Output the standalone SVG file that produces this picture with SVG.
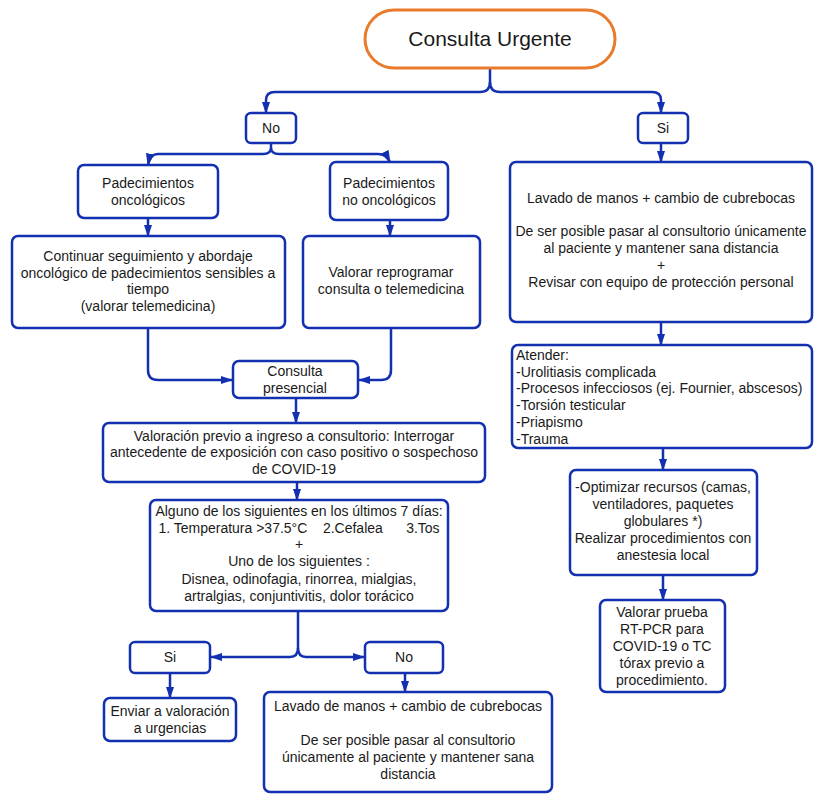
<svg xmlns="http://www.w3.org/2000/svg" width="822" height="804" viewBox="0 0 822 804">
<style>
.b{fill:#fff;stroke:#1230b0;stroke-width:2.5}
.t{font-family:"Liberation Sans",Arial,sans-serif;font-size:14px;fill:#1a1a1a;text-anchor:middle}
.l{text-anchor:start}
.c{fill:none;stroke:#1230b0;stroke-width:2.5}
</style>
<defs>
<marker id="a" viewBox="0 0 12 8" refX="11" refY="4" markerWidth="5" markerHeight="3.4" markerUnits="strokeWidth" orient="auto">
<path d="M0,0 L12,4 L0,8 z" fill="#1230b0"/>
</marker>
</defs>
<rect width="822" height="804" fill="#fff"/>
<g id="connectors">
<path class="c" d="M490,68 V82 Q490,92 480,92 H275 Q266,92 266,100 V113" marker-end="url(#a)"/>
<path class="c" d="M490,82 Q490,92 500,92 H652 Q661,92 661,100 V113" marker-end="url(#a)"/>
<path class="c" d="M271,143 V148 Q271,154 263,154 H158 Q150,154 148,165" marker-end="url(#a)"/>
<path class="c" d="M271,148 Q271,154 279,154 H378 Q386,154 390,162" marker-end="url(#a)"/>
<path class="c" d="M148,218 V236" marker-end="url(#a)"/>
<path class="c" d="M390,220 V236" marker-end="url(#a)"/>
<path class="c" d="M148,328 V370 Q148,380 158,380 H232" marker-end="url(#a)"/>
<path class="c" d="M391,328 V370 Q391,380 381,380 H359" marker-end="url(#a)"/>
<path class="c" d="M296,398 V423" marker-end="url(#a)"/>
<path class="c" d="M297,482 V500" marker-end="url(#a)"/>
<path class="c" d="M298,611 V648 Q298,657 290,657 H211" marker-end="url(#a)"/>
<path class="c" d="M298,648 Q298,657 306,657 H364" marker-end="url(#a)"/>
<path class="c" d="M170,673 V698" marker-end="url(#a)"/>
<path class="c" d="M405,673 V692" marker-end="url(#a)"/>
<path class="c" d="M661,143 V162" marker-end="url(#a)"/>
<path class="c" d="M661,322 V345" marker-end="url(#a)"/>
<path class="c" d="M663,448 V470" marker-end="url(#a)"/>
<path class="c" d="M663,575 V600" marker-end="url(#a)"/>
</g>
<g id="n-urgente">
<rect x="365" y="10" width="250" height="58" rx="29" fill="#fff" stroke="#e87b2c" stroke-width="3"/>
<text class="t" x="490" y="46" style="font-size:21px">Consulta Urgente</text>
</g>
<g id="n-no"><rect class="b" x="246" y="113" width="50" height="30" rx="5"/><text class="t" x="271" y="133">No</text></g>
<g id="n-si"><rect class="b" x="638" y="113" width="50" height="30" rx="5"/><text class="t" x="663" y="133">Si</text></g>
<g id="n-onc"><rect class="b" x="78" y="165" width="140" height="53" rx="6"/>
<text class="t" x="148" y="188">Padecimientos</text><text class="t" x="148" y="205">oncológicos</text></g>
<g id="n-noonc"><rect class="b" x="330" y="162" width="118" height="58" rx="6"/>
<text class="t" x="389" y="188">Padecimientos</text><text class="t" x="389" y="205">no oncológicos</text></g>
<g id="n-continuar"><rect class="b" x="12" y="236" width="273" height="92" rx="6"/>
<text class="t" x="148" y="261">Continuar seguimiento y abordaje</text>
<text class="t" x="148" y="278">oncológico de padecimientos sensibles a</text>
<text class="t" x="148" y="294">tiempo</text>
<text class="t" x="148" y="311">(valorar telemedicina)</text></g>
<g id="n-reprogramar"><rect class="b" x="303" y="236" width="177" height="92" rx="6"/>
<text class="t" x="391" y="277">Valorar reprogramar</text>
<text class="t" x="391" y="294">consulta o telemedicina</text></g>
<g id="n-presencial"><rect class="b" x="233" y="361" width="125" height="37" rx="6"/>
<text class="t" x="295" y="376">Consulta</text><text class="t" x="295" y="393">presencial</text></g>
<g id="n-valoracion"><rect class="b" x="103" y="423" width="382" height="59" rx="6"/>
<text class="t" x="294" y="441">Valoración previo a ingreso a consultorio: Interrogar</text>
<text class="t" x="294" y="457">antecedente de exposición con caso positivo o sospechoso</text>
<text class="t" x="294" y="474">de COVID-19</text></g>
<g id="n-alguno"><rect class="b" x="150" y="500" width="298" height="111" rx="6"/>
<text class="t" x="299" y="516">Alguno de los siguientes en los últimos 7 días:</text>
<text class="t" x="299" y="533" xml:space="preserve">1. Temperatura &gt;37.5°C    2.Cefalea      3.Tos</text>
<text class="t" x="299" y="549">+</text>
<text class="t" x="299" y="566">Uno de los siguientes :</text>
<text class="t" x="299" y="584">Disnea, odinofagia, rinorrea, mialgias,</text>
<text class="t" x="299" y="601">artralgias, conjuntivitis, dolor torácico</text></g>
<g id="n-si2"><rect class="b" x="130" y="642" width="80" height="31" rx="5"/><text class="t" x="170" y="662">Si</text></g>
<g id="n-no2"><rect class="b" x="365" y="642" width="78" height="31" rx="5"/><text class="t" x="404" y="662">No</text></g>
<g id="n-enviar"><rect class="b" x="104" y="698" width="132" height="43" rx="6"/>
<text class="t" x="170" y="716">Enviar a valoración</text><text class="t" x="170" y="733">a urgencias</text></g>
<g id="n-lavado2"><rect class="b" x="264" y="692" width="288" height="100" rx="6"/>
<text class="t" x="408" y="711">Lavado de manos + cambio de cubrebocas</text>
<text class="t" x="408" y="745">De ser posible pasar al consultorio</text>
<text class="t" x="408" y="762">únicamente al paciente y mantener sana</text>
<text class="t" x="408" y="779">distancia</text></g>
<g id="n-lavado1"><rect class="b" x="510" y="162" width="302" height="160" rx="6"/>
<text class="t" x="661" y="203">Lavado de manos + cambio de cubrebocas</text>
<text class="t" x="661" y="236">De ser posible pasar al consultorio únicamente</text>
<text class="t" x="661" y="253">al paciente y mantener sana distancia</text>
<text class="t" x="661" y="270">+</text>
<text class="t" x="661" y="287">Revisar con equipo de protección personal</text></g>
<g id="n-atender"><rect class="b" x="512" y="345" width="300" height="103" rx="6"/>
<text class="t l" x="516" y="360">Atender:</text>
<text class="t l" x="516" y="377">-Urolitiasis complicada</text>
<text class="t l" x="516" y="393">-Procesos infecciosos (ej. Fournier, abscesos)</text>
<text class="t l" x="516" y="410">-Torsión testicular</text>
<text class="t l" x="516" y="427">-Priapismo</text>
<text class="t l" x="516" y="444">-Trauma</text></g>
<g id="n-optimizar"><rect class="b" x="570" y="470" width="187" height="105" rx="6"/>
<text class="t" x="663" y="492">-Optimizar recursos (camas,</text>
<text class="t" x="663" y="509">ventiladores, paquetes</text>
<text class="t" x="663" y="526">globulares *)</text>
<text class="t" x="663" y="543">Realizar procedimientos con</text>
<text class="t" x="663" y="560">anestesia local</text></g>
<g id="n-prueba"><rect class="b" x="600" y="600" width="125" height="92" rx="6"/>
<text class="t" x="662" y="617">Valorar prueba</text>
<text class="t" x="662" y="634">RT-PCR para</text>
<text class="t" x="662" y="651">COVID-19 o TC</text>
<text class="t" x="662" y="668">tórax previo a</text>
<text class="t" x="662" y="685">procedimiento.</text></g>
</svg>
